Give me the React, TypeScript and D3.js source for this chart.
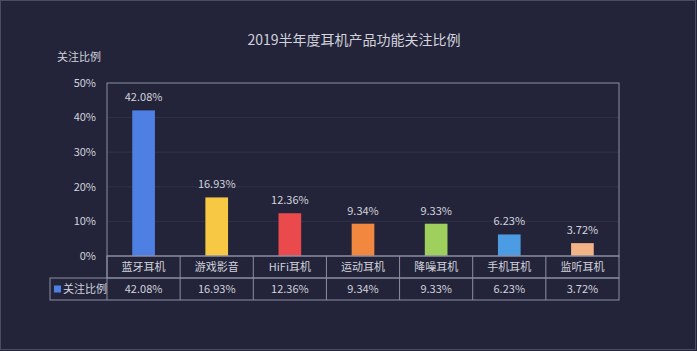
import React from 'react';
import * as d3 from 'd3';

const categories = ['蓝牙耳机', '游戏影音', 'HiFi耳机', '运动耳机', '降噪耳机', '手机耳机', '监听耳机'];
const values = [42.08, 16.93, 12.36, 9.34, 9.33, 6.23, 3.72];
const colors = ['#4e80e4', '#f6c843', '#ea4a4c', '#f2873f', '#9fcf5c', '#4b9ce2', '#f2b386'];
const yTicks = [0, 10, 20, 30, 40, 50];
const seriesName = '关注比例';
const title = '2019半年度耳机产品功能关注比例';

const App = () => {
  const ref = React.useRef<SVGSVGElement>(null);

  React.useEffect(() => {
    const svg = d3.select(ref.current);
    svg.selectAll('*').remove();

    const width = 697;
    const height = 351;
    const margin = { top: 83, left: 107, right: 78, bottom: 95 };
    const rowH = 22;
    const textColor = '#d2d3dc';
    const lineColor = '#8c8ea3';
    const font = '"Noto Sans CJK SC", "Noto Sans", sans-serif';

    svg.append('rect').attr('width', width).attr('height', height).attr('fill', '#23243a');
    svg.append('rect')
      .attr('x', 0.5).attr('y', 0.5)
      .attr('width', width - 2).attr('height', height - 2)
      .attr('fill', 'none').attr('stroke', '#4a4c62');

    const x = d3.scaleBand()
      .domain(categories)
      .range([margin.left, width - margin.right]);

    const y = d3.scaleLinear()
      .domain([0, 50])
      .range([height - margin.bottom, margin.top]);

    // grid
    svg.append('g')
      .selectAll('line')
      .data(yTicks.slice(1, -1))
      .join('line')
      .attr('x1', margin.left).attr('x2', width - margin.right)
      .attr('y1', d => y(d)).attr('y2', d => y(d))
      .attr('stroke', '#30324a');

    // y tick labels
    svg.append('g')
      .selectAll('text')
      .data(yTicks)
      .join('text')
      .attr('x', margin.left - 11)
      .attr('y', d => y(d))
      .attr('dy', '0.35em')
      .attr('text-anchor', 'end')
      .attr('fill', textColor)
      .attr('font-size', 11)
      .attr('font-family', font)
      .text(d => `${d}%`);

    svg.append('text')
      .attr('x', 79).attr('y', 61)
      .attr('text-anchor', 'middle')
      .attr('fill', textColor)
      .attr('font-size', 11)
      .attr('font-family', font)
      .text(seriesName);

    svg.append('text')
      .attr('x', 354).attr('y', 45)
      .attr('text-anchor', 'middle')
      .attr('fill', textColor)
      .attr('font-size', 14)
      .attr('font-family', font)
      .text(title);

    // bars
    const bw = x.bandwidth() * 0.31;
    svg.append('g')
      .selectAll('rect')
      .data(values)
      .join('rect')
      .attr('x', (d, i) => x(categories[i])! + (x.bandwidth() - bw) / 2)
      .attr('y', d => y(d))
      .attr('width', bw)
      .attr('height', d => y(0) - y(d))
      .attr('fill', (d, i) => colors[i]);

    svg.append('g')
      .selectAll('text')
      .data(values)
      .join('text')
      .attr('x', (d, i) => x(categories[i])! + x.bandwidth() / 2)
      .attr('y', d => y(d) - 9)
      .attr('text-anchor', 'middle')
      .attr('fill', textColor)
      .attr('font-size', 11)
      .attr('font-family', font)
      .text(d => d.toFixed(2) + '%');

    // plot frame
    svg.append('rect')
      .attr('x', margin.left).attr('y', margin.top)
      .attr('width', width - margin.left - margin.right)
      .attr('height', y(0) - margin.top)
      .attr('fill', 'none').attr('stroke', lineColor);

    // data table
    const y0 = y(0);
    const tbl = svg.append('g').attr('stroke', lineColor).attr('fill', 'none');
    tbl.append('rect')
      .attr('x', margin.left).attr('y', y0)
      .attr('width', width - margin.left - margin.right).attr('height', rowH);
    tbl.append('rect')
      .attr('x', 50).attr('y', y0 + rowH)
      .attr('width', width - margin.right - 50).attr('height', rowH);
    tbl.selectAll('line.v')
      .data(categories)
      .join('line')
      .attr('x1', d => x(d)!).attr('x2', d => x(d)!)
      .attr('y1', y0).attr('y2', y0 + rowH * 2);

    svg.append('g')
      .selectAll('text')
      .data(categories)
      .join('text')
      .attr('x', d => x(d)! + x.bandwidth() / 2)
      .attr('y', y0 + rowH / 2)
      .attr('dy', '0.35em')
      .attr('text-anchor', 'middle')
      .attr('fill', textColor)
      .attr('font-size', 11)
      .attr('font-family', font)
      .text(d => d);

    svg.append('g')
      .selectAll('text')
      .data(values)
      .join('text')
      .attr('x', (d, i) => x(categories[i])! + x.bandwidth() / 2)
      .attr('y', y0 + rowH * 1.5)
      .attr('dy', '0.35em')
      .attr('text-anchor', 'middle')
      .attr('fill', textColor)
      .attr('font-size', 11)
      .attr('font-family', font)
      .text(d => d.toFixed(2) + '%');

    svg.append('rect')
      .attr('x', 54).attr('y', y0 + rowH * 1.5 - 3.5)
      .attr('width', 7).attr('height', 7)
      .attr('fill', '#4e80e4');
    svg.append('text')
      .attr('x', 63).attr('y', y0 + rowH * 1.5)
      .attr('dy', '0.35em')
      .attr('fill', textColor)
      .attr('font-size', 11)
      .attr('font-family', font)
      .text(seriesName);
  }, []);

  return (
    <svg
      ref={ref}
      width={697}
      height={351}
      style={{ position: 'fixed', top: 0, left: 0, display: 'block' }}
    />
  );
};

export default App;
